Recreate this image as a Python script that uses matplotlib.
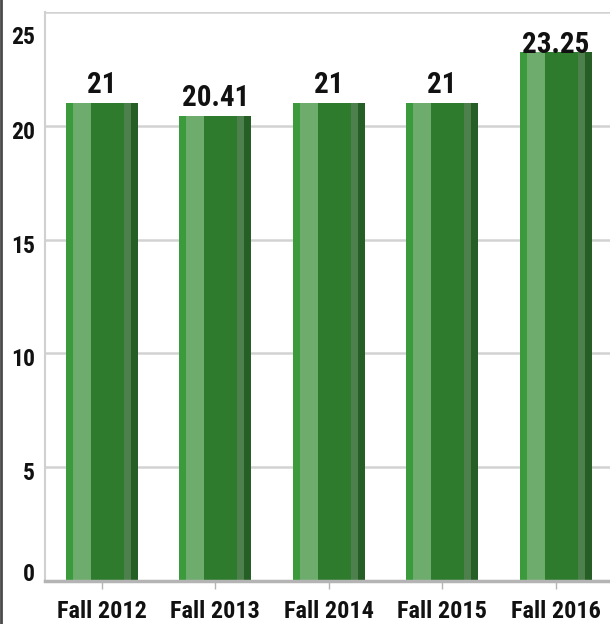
import matplotlib
matplotlib.use("Agg")
import matplotlib.pyplot as plt
import matplotlib.transforms as mtransforms
from matplotlib.lines import Line2D
import numpy as np

categories = ["Fall 2012", "Fall 2013", "Fall 2014", "Fall 2015", "Fall 2016"]
values = [21, 20.41, 21, 21, 23.25]
value_labels = ["21", "20.41", "21", "21", "23.25"]
yticks = [0, 5, 10, 15, 20, 25]

plt.rcParams['font.family'] = ['Roboto Condensed', 'DejaVu Sans']
plt.rcParams['font.weight'] = 'bold'

W, H = 610, 624
fig = plt.figure(figsize=(W / 100, H / 100), dpi=100)
ax = fig.add_axes([45 / W, 43 / H, 567.5 / W, 569 / H])

x = np.arange(len(categories))
bar_w = 0.635
# stripe structure (fraction of bar width, colour)
stripes = [(0.10, '#3b9a3b'), (0.25, '#6eac6e'), (0.455, '#2e7b2e'),
           (0.097, '#4d804d'), (0.098, '#255f25')]
left = x - bar_w / 2
for frac, col in stripes:
    w = frac * bar_w
    ax.bar(left + w / 2, values, width=w, color=col, edgecolor='none', zorder=3)
    left = left + w

ax.set_xlim(-0.5, len(categories) - 0.5)
ax.set_ylim(0, 25)
ax.set_yticks(yticks)
ax.set_yticklabels([str(t) for t in yticks])
ax.set_xticks(x)
ax.set_xticklabels(categories)
ax.grid(axis='y', color='#d2d2d2', linewidth=1.8, zorder=0)
ax.set_axisbelow(True)

for side in ['top', 'right']:
    ax.spines[side].set_visible(False)
ax.spines['left'].set_color('#d0d0d0')
ax.spines['left'].set_linewidth(1.5)
ax.spines['bottom'].set_color('#b4b4b4')
ax.spines['bottom'].set_linewidth(2.5)
ax.spines['bottom'].set_zorder(4)

ax.tick_params(axis='y', length=0, pad=7, labelsize=17, labelcolor='#111111')
ax.tick_params(axis='x', length=6, width=1, color='#b4b4b4', pad=8, labelsize=17.5,
               labelcolor='#111111')

# vertical nudges of y tick labels (pixels, positive = down)
for lab, t in zip(ax.get_yticklabels(), yticks):
    dy = 4
    if t == 25:
        dy = 23
    elif t == 0:
        dy = -9
    lab.set_transform(lab.get_transform() + mtransforms.Affine2D().translate(0, -dy))

for xi, v, s in zip(x, values, value_labels):
    if v > 22.5:
        ax.annotate(s, (xi, 25), xytext=(0, -19 * 0.72), textcoords='offset points',
                    ha='center', va='top', fontsize=21, fontweight='bold', color='#111111',
                    zorder=5)
    else:
        ax.annotate(s, (xi, v), xytext=(0, 3), textcoords='offset points',
                    ha='center', va='bottom', fontsize=21, fontweight='bold', color='#111111',
                    zorder=5)

fig.add_artist(Line2D([1 / W, 1 / W], [0, 1], transform=fig.transFigure,
                      color='#4a4a4a', linewidth=2))

fig.savefig('out.png', dpi=100)
